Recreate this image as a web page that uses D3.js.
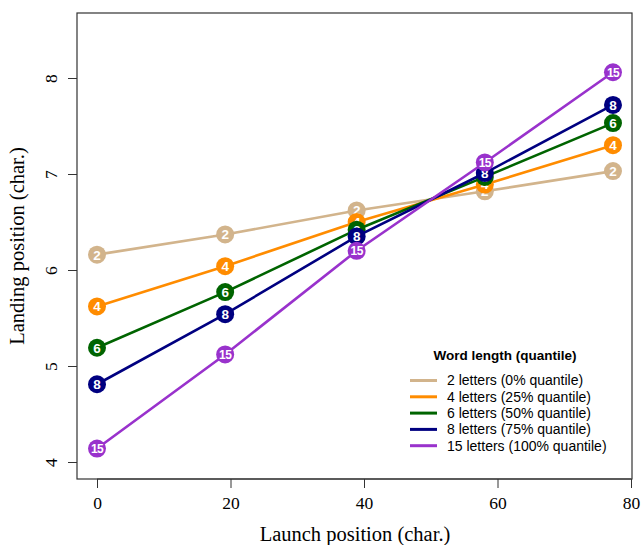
<!DOCTYPE html>
<html>
<head>
<meta charset="utf-8">
<script src="https://cdn.jsdelivr.net/npm/d3@7"></script>
<style>
  body { margin: 0; background: #fff; }
  svg { display: block; }
</style>
</head>
<body>
<svg width="641" height="545"></svg>
<script>
// launch positions (char.)
const launch = [0, 19.2, 38.9, 58.1, 77.3];

// word length groups
const wordLengths = [2, 4, 6, 8, 15];
const legendLabels = [
    '2 letters (0% quantile)',
    '4 letters (25% quantile)',
    '6 letters (50% quantile)',
    '8 letters (75% quantile)',
    '15 letters (100% quantile)'
];
const colors = ['#D2B48C', '#FF8C00', '#006400', '#000080', '#9932CC'];

// landing positions, one array per word length
const landing2 = [6.16, 6.37, 6.62, 6.82, 7.03];
const landing4 = [5.62, 6.04, 6.50, 6.89, 7.30];
const landing6 = [5.19, 5.77, 6.42, 6.97, 7.53];
const landing8 = [4.81, 5.54, 6.35, 7.01, 7.72];
const landing15 = [4.14, 5.12, 6.20, 7.12, 8.06];
const landing = [landing2, landing4, landing6, landing8, landing15];

const xTicks = [0, 20, 40, 60, 80];
const yTicks = [4, 5, 6, 7, 8];

const svg = d3.select('svg');

// plot box in pixels
const box = { left: 77, right: 632, top: 13, bottom: 479 };

const xScale = d3.scaleLinear().domain([0, 80]).range([97, 631]);
const yScale = d3.scaleLinear().domain([4, 8]).range([462, 78]);

const serif = '"Liberation Serif", "Times New Roman", serif';
const sans = '"Liberation Sans", Arial, sans-serif';

// axes, R style: ticks outside the box
const xAxis = svg.append('g')
    .attr('transform', `translate(0,${box.bottom})`)
    .call(d3.axisBottom(xScale).tickValues(xTicks).tickFormat(d3.format('d'))
        .tickSize(9).tickPadding(9));
xAxis.selectAll('text')
    .attr('font-family', serif)
    .attr('font-size', 17.5)
    .attr('fill', '#000');

const yAxis = svg.append('g')
    .attr('transform', `translate(${box.left},0)`)
    .call(d3.axisLeft(yScale).tickValues(yTicks).tickFormat(d3.format('d'))
        .tickSize(9));
yAxis.selectAll('.tick text')
    .attr('font-family', serif)
    .attr('font-size', 17.5)
    .attr('fill', '#000')
    .attr('text-anchor', 'middle')
    .attr('x', 0)
    .attr('dy', 0)
    .attr('transform', 'translate(-20,0) rotate(-90)');

[xAxis, yAxis].forEach(a => {
    a.select('.domain').remove();
    a.selectAll('line').attr('stroke', '#333');
});

svg.append('line')
    .attr('x1', xScale(0)).attr('x2', xScale(80))
    .attr('y1', box.bottom).attr('y2', box.bottom)
    .attr('stroke', '#333');

svg.append('rect')
    .attr('x', box.left)
    .attr('y', box.top)
    .attr('width', box.right - box.left)
    .attr('height', box.bottom - box.top)
    .attr('fill', 'none')
    .attr('stroke', '#333')
    .attr('stroke-width', 1.2);

// axis titles
svg.append('text')
    .attr('x', 355)
    .attr('y', 541)
    .attr('text-anchor', 'middle')
    .attr('font-family', serif)
    .attr('font-size', 20.5)
    .text('Launch position (char.)');

svg.append('text')
    .attr('transform', `translate(24,${(box.top + box.bottom) / 2}) rotate(-90)`)
    .attr('text-anchor', 'middle')
    .attr('font-family', serif)
    .attr('font-size', 20.5)
    .text('Landing position (char.)');

// series
const line = d3.line()
    .x(d => xScale(d.x))
    .y(d => yScale(d.y));

landing.forEach((ys, i) => {
    const pts = ys.map((y, j) => ({ x: launch[j], y: y }));
    const g = svg.append('g');

    g.append('path')
        .datum(pts)
        .attr('d', line)
        .attr('fill', 'none')
        .attr('stroke', colors[i])
        .attr('stroke-width', 2.6);

    const p = g.selectAll('g.pt')
        .data(pts)
        .join('g')
        .attr('class', 'pt')
        .attr('transform', d => `translate(${xScale(d.x)},${yScale(d.y)})`);

    p.append('circle')
        .attr('r', 9)
        .attr('fill', colors[i]);

    p.append('text')
        .attr('text-anchor', 'middle')
        .attr('dy', '0.36em')
        .attr('font-family', sans)
        .attr('font-weight', 'bold')
        .attr('font-size', wordLengths[i] > 9 ? 12 : 13.5)
        .attr('letter-spacing', wordLengths[i] > 9 ? -0.6 : 0)
        .attr('fill', '#fff')
        .text(wordLengths[i]);
});

// legend
const legend = svg.append('g');
legend.append('text')
    .attr('x', 505)
    .attr('y', 360)
    .attr('text-anchor', 'middle')
    .attr('font-family', sans)
    .attr('font-weight', 'bold')
    .attr('font-size', 13.5)
    .text('Word length (quantile)');

const rows = legend.selectAll('g.row')
    .data(legendLabels)
    .join('g')
    .attr('class', 'row')
    .attr('transform', (d, i) => `translate(0,${380.5 + i * 16.3})`);

rows.append('line')
    .attr('x1', 410).attr('x2', 437)
    .attr('stroke', (d, i) => colors[i])
    .attr('stroke-width', 3);

rows.append('text')
    .attr('x', 447)
    .attr('dy', '0.35em')
    .attr('font-family', sans)
    .attr('font-size', 14)
    .text(d => d);
</script>
</body>
</html>
